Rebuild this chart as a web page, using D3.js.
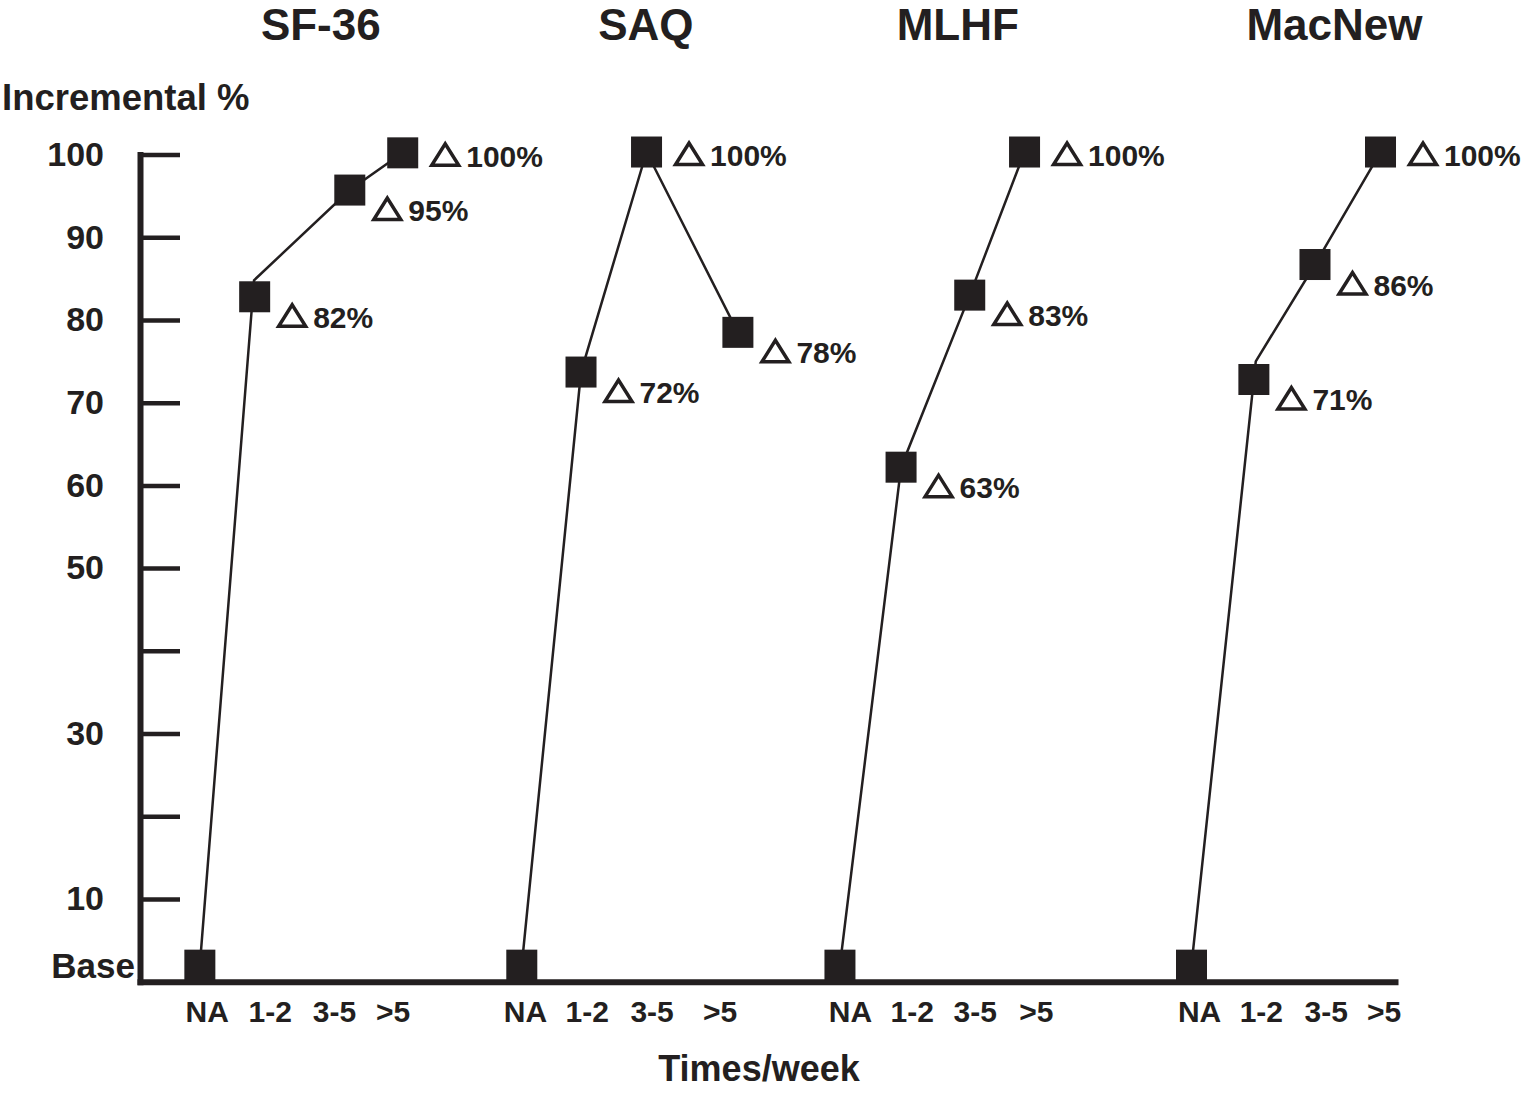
<!DOCTYPE html>
<html>
<head>
<meta charset="utf-8">
<script src="https://cdn.jsdelivr.net/npm/d3@7/dist/d3.min.js"></script>
<style>
  body { margin: 0; background: #fff; }
  svg { display: block; font-family: "Liberation Sans", Arial, sans-serif; font-weight: bold; }
</style>
</head>
<body>
<svg id="chart" width="1524" height="1095"></svg>
<script>
// questionnaires and exercise frequency categories
const scaleNames = ["SF-36", "SAQ", "MLHF", "MacNew"];
const freqLabels = ["NA", "1-2", "3-5", ">5"];

// positions on the x axis, in category slots
const titleX = [1.81, 6.97, 11.92, 17.90];
const tickX = [[0, 1.0, 2.02, 2.95], [5.05, 6.03, 7.06, 8.14], [10.21, 11.19, 12.19, 13.16], [15.75, 16.73, 17.76, 18.68]];
const markerX = [[-0.11, 0.76, 2.27, 3.11], [5.0, 5.94, 6.98, 8.43], [10.05, 11.02, 12.11, 12.98], [15.63, 16.62, 17.59, 18.63]];
const lineX = [[-0.11, 0.75, 2.27, 3.11], [5.0, 5.94, 6.98, 8.43], [10.05, 11.02, 12.11, 12.98], [15.63, 16.65, 17.59, 18.63]];

// incremental % (base = first point)
const markerY = [[2.0, 82.8, 95.7, 100.2], [2.0, 73.7, 100.3, 78.5], [2.0, 62.2, 83.0, 100.3], [2.0, 72.8, 86.7, 100.3]];
const lineY = [[2.0, 84.8, 95.7, 100.2], [2.0, 73.7, 100.3, 78.5], [2.0, 62.2, 83.0, 100.3], [2.0, 75.0, 86.7, 100.3]];
const pctLabels = [[null, "82%", "95%", "100%"], [null, "72%", "100%", "78%"], [null, "63%", "83%", "100%"], [null, "71%", "86%", "100%"]];

const yTicks = [10, 20, 30, 40, 50, 60, 70, 80, 90, 100];
const yTickLabels = ["10", "", "30", "", "50", "60", "70", "80", "90", "100"];
const baseValue = 2;

const ink = "#231f20";
const svg = d3.select("#chart");

const x = d3.scaleLinear().domain([-1.06, 18.86]).range([140, 1395]);
const y = d3.scaleLinear().domain([0, 100]).range([981.7, 154.5]);

// y axis: ticks to the right, labels to the left
const yAxis = svg.append("g")
  .attr("transform", "translate(" + x(-1.06) + ",0)")
  .call(d3.axisLeft(y).tickValues(yTicks).tickSizeInner(-40).tickSizeOuter(0).tickPadding(36)
    .tickFormat((d, i) => yTickLabels[i]));
yAxis.select(".domain").attr("stroke", ink).attr("stroke-width", 6).attr("stroke-linecap", "square");
yAxis.selectAll(".tick line").attr("stroke", ink).attr("stroke-width", 4.5);
yAxis.selectAll(".tick text").attr("fill", ink).attr("font-size", 34);
yAxis.attr("font-family", null).attr("font-size", null);

svg.append("text")
  .attr("x", 135).attr("y", y(baseValue)).attr("dy", "0.36em")
  .attr("text-anchor", "end").attr("font-size", 35).attr("fill", ink)
  .text("Base");

// x axis with the four frequency labels per questionnaire
const flatX = tickX.flat();
const flatLab = tickX.map(g => freqLabels).flat();
const xAxis = svg.append("g")
  .attr("transform", "translate(0," + y(0) + ")")
  .call(d3.axisBottom(x).tickValues(flatX).tickSize(0).tickPadding(19)
    .tickFormat((d, i) => flatLab[i]));
xAxis.select(".domain").attr("stroke", ink).attr("stroke-width", 6).attr("stroke-linecap", "square");
xAxis.selectAll(".tick text").attr("fill", ink).attr("font-size", 30);
xAxis.attr("font-family", null).attr("font-size", null);

// titles
svg.selectAll(".title").data(scaleNames).enter().append("text")
  .attr("class", "title")
  .attr("x", (d, i) => x(titleX[i])).attr("y", 40)
  .attr("text-anchor", "middle").attr("font-size", 44).attr("fill", ink)
  .text(d => d);

svg.append("text").attr("x", 2).attr("y", 110)
  .attr("font-size", 36.5).attr("fill", ink).text("Incremental %");

svg.append("text").attr("x", 759).attr("y", 1081)
  .attr("text-anchor", "middle").attr("font-size", 36).attr("fill", ink).text("Times/week");

// series
const line = d3.line().x(d => x(d[0])).y(d => y(d[1]));
const half = 15.5;

scaleNames.forEach((name, s) => {
  const g = svg.append("g");
  const pts = lineX[s].map((v, i) => [v, lineY[s][i]]);
  g.append("path").attr("d", line(pts))
    .attr("fill", "none").attr("stroke", ink).attr("stroke-width", 2.5);

  g.selectAll("rect").data(markerX[s]).enter().append("rect")
    .attr("x", d => x(d) - half)
    .attr("y", (d, i) => y(markerY[s][i]) - half)
    .attr("width", half * 2).attr("height", half * 2)
    .attr("fill", ink);

  pctLabels[s].forEach((lab, i) => {
    if (!lab) return;
    const cx = x(markerX[s][i]), cy = y(markerY[s][i]);
    const top = lab === "100%";
    const left = cx + half + (top ? 12 : 7);
    const bottom = cy + (top ? 14 : 31);
    g.append("path")
      .attr("d", "M" + (left + 1.5) + "," + (bottom - 1.5) + "L" + (left + 28.5) + "," + (bottom - 1.5) + "L" + (left + 15) + "," + (bottom - 23) + "Z")
      .attr("fill", "#fff").attr("stroke", ink).attr("stroke-width", 3.5).attr("stroke-linejoin", "miter");
    g.append("text").attr("x", left + 36).attr("y", bottom)
      .attr("font-size", 30).attr("fill", ink).text(lab);
  });
});
</script>
</body>
</html>
